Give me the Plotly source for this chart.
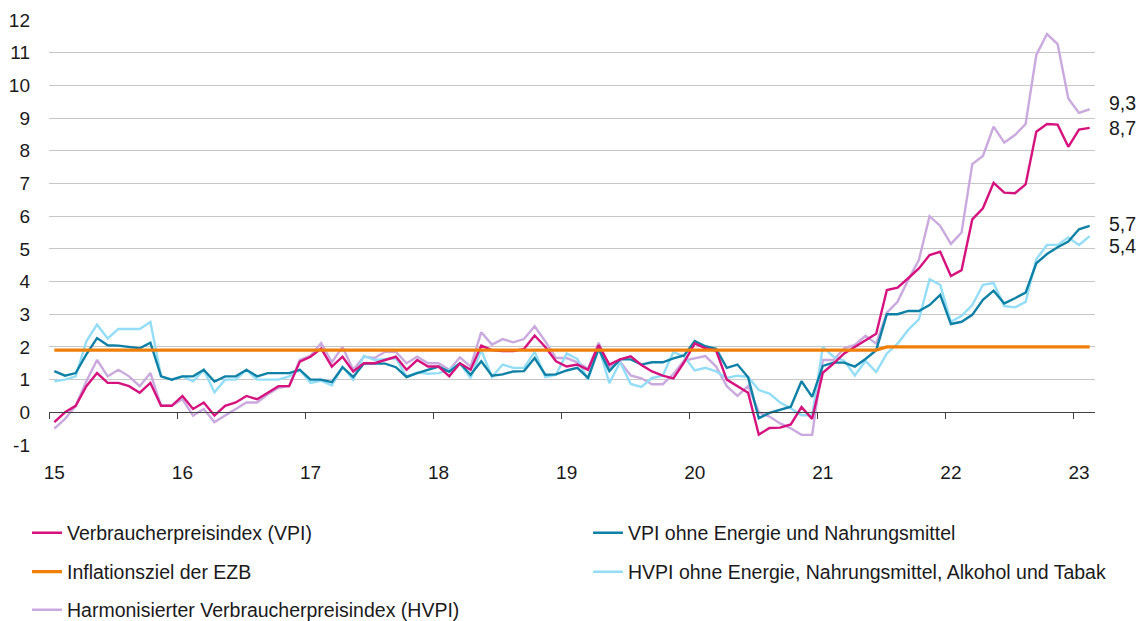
import numpy as np
import plotly.graph_objects as go

# ---------------- data ----------------
months = [f"{y}-{m:02d}" for y in range(2015, 2024) for m in range(1, 13)][:98]

vpi = [
    -0.3, 0.0, 0.2, 0.8, 1.2, 0.9, 0.9, 0.8, 0.6, 0.9, 0.2, 0.2,
    0.5, 0.1, 0.3, -0.1, 0.2, 0.3, 0.5, 0.4, 0.6, 0.8, 0.8, 1.55,
    1.7, 1.95, 1.4, 1.7, 1.25, 1.5, 1.5, 1.6, 1.7, 1.3, 1.6, 1.4,
    1.4, 1.1, 1.5, 1.3, 2.04, 1.9, 1.87, 1.87, 1.94, 2.35, 2.0, 1.56,
    1.4, 1.46, 1.3, 2.06, 1.46, 1.62, 1.71, 1.45, 1.25, 1.12, 1.04, 1.53,
    2.11, 1.96, 1.89, 1.0, 0.8, 0.6, -0.68, -0.48, -0.47, -0.37, 0.16, -0.2,
    1.21, 1.49, 1.8, 2.0, 2.2, 2.4, 3.74, 3.81, 4.1, 4.4, 4.81, 4.91,
    4.17, 4.35, 5.9, 6.24, 7.02, 6.72, 6.7, 6.97, 8.58, 8.82, 8.8, 8.12,
    8.65, 8.7,
]

vpi_core = [
    1.26, 1.12, 1.2, 1.77, 2.27, 2.05, 2.04, 2.0, 1.96, 2.13, 1.1, 1.0,
    1.1, 1.1, 1.3, 0.94, 1.1, 1.1, 1.3, 1.1, 1.2, 1.2, 1.2, 1.3,
    1.0, 1.0, 0.92, 1.38, 1.08, 1.49, 1.49, 1.49, 1.38, 1.08, 1.2, 1.29,
    1.4, 1.24, 1.5, 1.15, 1.56, 1.12, 1.16, 1.25, 1.26, 1.66, 1.15, 1.16,
    1.28, 1.36, 1.05, 1.94, 1.26, 1.62, 1.62, 1.46, 1.53, 1.53, 1.65, 1.74,
    2.18, 2.02, 1.94, 1.36, 1.46, 1.07, -0.18, -0.02, 0.07, 0.17, 0.95, 0.47,
    1.42, 1.52, 1.52, 1.4, 1.63, 1.9, 3.0, 3.0, 3.1, 3.1, 3.28, 3.59,
    2.7, 2.77, 2.98, 3.44, 3.72, 3.33, 3.49, 3.66, 4.56, 4.84, 5.05, 5.22,
    5.6, 5.7,
]

hvpi = [
    -0.5, -0.2, 0.2, 0.95, 1.6, 1.1, 1.3, 1.1, 0.8, 1.2, 0.2, 0.2,
    0.4, -0.1, 0.1, -0.3, -0.1, 0.1, 0.3, 0.3, 0.55, 0.75, 0.8, 1.6,
    1.73, 2.12, 1.53, 2.0, 1.3, 1.7, 1.66, 1.85, 1.85, 1.5, 1.7, 1.5,
    1.5, 1.3, 1.68, 1.4, 2.45, 2.07, 2.24, 2.14, 2.24, 2.63, 2.17, 1.66,
    1.66, 1.53, 1.33, 2.13, 1.38, 1.55, 1.13, 1.04, 0.86, 0.86, 1.17, 1.58,
    1.65, 1.72, 1.4, 0.8, 0.5, 0.8, 0.0, -0.13, -0.34, -0.49, -0.69, -0.69,
    1.6, 1.6, 1.96, 2.06, 2.34, 2.1, 3.05, 3.38, 4.05, 4.66, 6.0, 5.7,
    5.15, 5.5, 7.59, 7.84, 8.74, 8.25, 8.48, 8.82, 10.93, 11.57, 11.26, 9.6,
    9.16, 9.27,
]

hvpi_core = [
    0.95, 1.0, 1.1, 2.17, 2.68, 2.26, 2.55, 2.55, 2.55, 2.76, 1.1, 1.0,
    1.1, 0.95, 1.3, 0.61, 1.0, 1.0, 1.3, 1.0, 1.0, 1.0, 1.1, 1.3,
    0.9, 0.97, 0.82, 1.4, 1.0, 1.73, 1.6, 1.62, 1.65, 1.09, 1.22, 1.18,
    1.2, 1.3, 1.5, 1.05, 1.9, 1.08, 1.46, 1.36, 1.36, 1.85, 1.08, 1.15,
    1.8, 1.63, 1.0, 2.0, 0.89, 1.53, 0.87, 0.78, 1.05, 1.12, 1.84, 1.71,
    1.28, 1.36, 1.25, 1.05, 1.12, 1.08, 0.68, 0.57, 0.3, 0.12, -0.09, -0.09,
    2.0, 1.7, 1.58, 1.13, 1.57, 1.23, 1.8, 2.1, 2.52, 2.84, 4.07, 3.9,
    2.77, 2.95, 3.28, 3.9, 3.95, 3.25, 3.21, 3.38, 4.68, 5.12, 5.12, 5.35,
    5.12, 5.39,
]

ezb_target = [
    1.9, 1.9, 1.9, 1.9, 1.9, 1.9, 1.9, 1.9, 1.9, 1.9, 1.9, 1.9,
    1.9, 1.9, 1.9, 1.9, 1.9, 1.9, 1.9, 1.9, 1.9, 1.9, 1.9, 1.9,
    1.9, 1.9, 1.9, 1.9, 1.9, 1.9, 1.9, 1.9, 1.9, 1.9, 1.9, 1.9,
    1.9, 1.9, 1.9, 1.9, 1.9, 1.9, 1.9, 1.9, 1.9, 1.9, 1.9, 1.9,
    1.9, 1.9, 1.9, 1.9, 1.9, 1.9, 1.9, 1.9, 1.9, 1.9, 1.9, 1.9,
    1.9, 1.9, 1.9, 1.9, 1.9, 1.9, 1.9, 1.9, 1.9, 1.9, 1.9, 1.9,
    1.9, 1.9, 1.9, 1.9, 1.9, 1.9, 2.0, 2.0, 2.0, 2.0, 2.0, 2.0,
    2.0, 2.0, 2.0, 2.0, 2.0, 2.0, 2.0, 2.0, 2.0, 2.0, 2.0, 2.0,
    2.0, 2.0,
]

year_labels = ["15", "16", "17", "18", "19", "20", "21", "22", "23"]
y_tick_values = [-1, 0, 1, 2, 3, 4, 5, 6, 7, 8, 9, 10, 11, 12]
y_tick_labels = ["-1", "0", "1", "2", "3", "4", "5", "6", "7", "8", "9", "10", "11", "12"]

names = {
    "vpi": "Verbraucherpreisindex (VPI)",
    "vpi_core": "VPI ohne Energie und Nahrungsmittel",
    "ezb": "Inflationsziel der EZB",
    "hvpi_core": "HVPI ohne Energie, Nahrungsmittel, Alkohol und Tabak",
    "hvpi": "Harmonisierter Verbraucherpreisindex (HVPI)",
}

# ---------------- styling ----------------
FONT = "Liberation Sans, Arial, sans-serif"
TXT = "#1a1a1a"
C_VPI = "#D5127E"
C_VPI_CORE = "#0F80A6"
C_EZB = "#F07F0A"
C_HVPI_CORE = "#93DDF7"
C_HVPI = "#CAA9DE"

n = len(months)
x = np.arange(n) + 0.5                       # category centres
jan_idx = [i for i, m in enumerate(months) if m.endswith("-01")]
W, H = 1144, 621
ML, MR, MT, MB = 49, 49, 20, 176
ymin, ymax = -1, 12

fig = go.Figure()

def add(y, name, color, width, legend, xaxis="x"):
    fig.add_trace(go.Scatter(
        x=x, y=y, name=name, mode="lines", xaxis=xaxis, yaxis="y",
        line=dict(color=color, width=width), legend=legend,
        hoverinfo="skip",
    ))

add(hvpi, names["hvpi"], C_HVPI, 2.4, "legend5")
add(hvpi_core, names["hvpi_core"], C_HVPI_CORE, 2.4, "legend4")
add(vpi_core, names["vpi_core"], C_VPI_CORE, 2.4, "legend2")
add(vpi, names["vpi"], C_VPI, 2.4, "legend")
add(ezb_target, names["ezb"], C_EZB, 3.3, "legend3", xaxis="x2")

# end-of-line value labels
end_labels = [(hvpi, 6), (vpi, 0), (vpi_core, 2), (hvpi_core, -10)]
for series, ysh in end_labels:
    fig.add_annotation(
        x=x[-1], y=series[-1], xref="x", yref="y",
        text=f"{series[-1]:.1f}".replace(".", ","),
        showarrow=False, xanchor="left", yanchor="middle",
        xshift=17, yshift=ysh,
        font=dict(family=FONT, size=19.5, color=TXT),
    )

zero_pos = (0 - ymin) / (ymax - ymin)

leg_common = dict(
    orientation="h", xanchor="left", yanchor="middle",
    font=dict(family=FONT, size=19.5, color=TXT),
    bgcolor="rgba(0,0,0,0)", borderwidth=0,
    itemclick=False, itemdoubleclick=False,
)

plot_w = W - ML - MR
plot_h = H - MT - MB
def row_y(px):
    return ((H - MB) - px) / plot_h
def col_x(px):
    return (px - ML) / plot_w

c1, c2 = 27, 588
fig.update_layout(
    width=W, height=H,
    margin=dict(l=ML, r=MR, t=MT, b=MB, autoexpand=False),
    paper_bgcolor="white", plot_bgcolor="white",
    font=dict(family=FONT, size=19, color=TXT),
    xaxis=dict(
        range=[0, n], domain=[0, 1], anchor="y",
        tickmode="array", tickvals=[i + 0.5 for i in jan_idx], ticktext=year_labels,
        ticks="", showgrid=False, showline=False, zeroline=False,
        ticklabelstandoff=14,
        tickfont=dict(family=FONT, size=19, color=TXT),
    ),
    xaxis2=dict(
        range=[0, n], overlaying="x", anchor="free", position=zero_pos,
        tickmode="array", tickvals=jan_idx,
        ticks="outside", ticklen=6, tickwidth=1.3, tickcolor="#404040",
        showticklabels=False, showgrid=False, zeroline=False,
        showline=True, linecolor="#404040", linewidth=1.3,
    ),
    yaxis=dict(
        range=[ymin, ymax], tickmode="array",
        tickvals=y_tick_values, ticktext=y_tick_labels,
        showgrid=True, gridcolor="#C6C6C6", gridwidth=1.2,
        zeroline=False, showline=False, ticks="",
        ticklabelstandoff=18,
        tickfont=dict(family=FONT, size=19, color=TXT),
    ),
    legend=dict(x=col_x(c1), y=row_y(533), **leg_common),
    legend2=dict(x=col_x(c2), y=row_y(533), **leg_common),
    legend3=dict(x=col_x(c1), y=row_y(572), **leg_common),
    legend4=dict(x=col_x(c2), y=row_y(572), **leg_common),
    legend5=dict(x=col_x(c1), y=row_y(610), **leg_common),
    showlegend=True,
)

fig.write_html("out.html", config={"displayModeBar": False},
               post_script="document.body.style.margin='0px';")
